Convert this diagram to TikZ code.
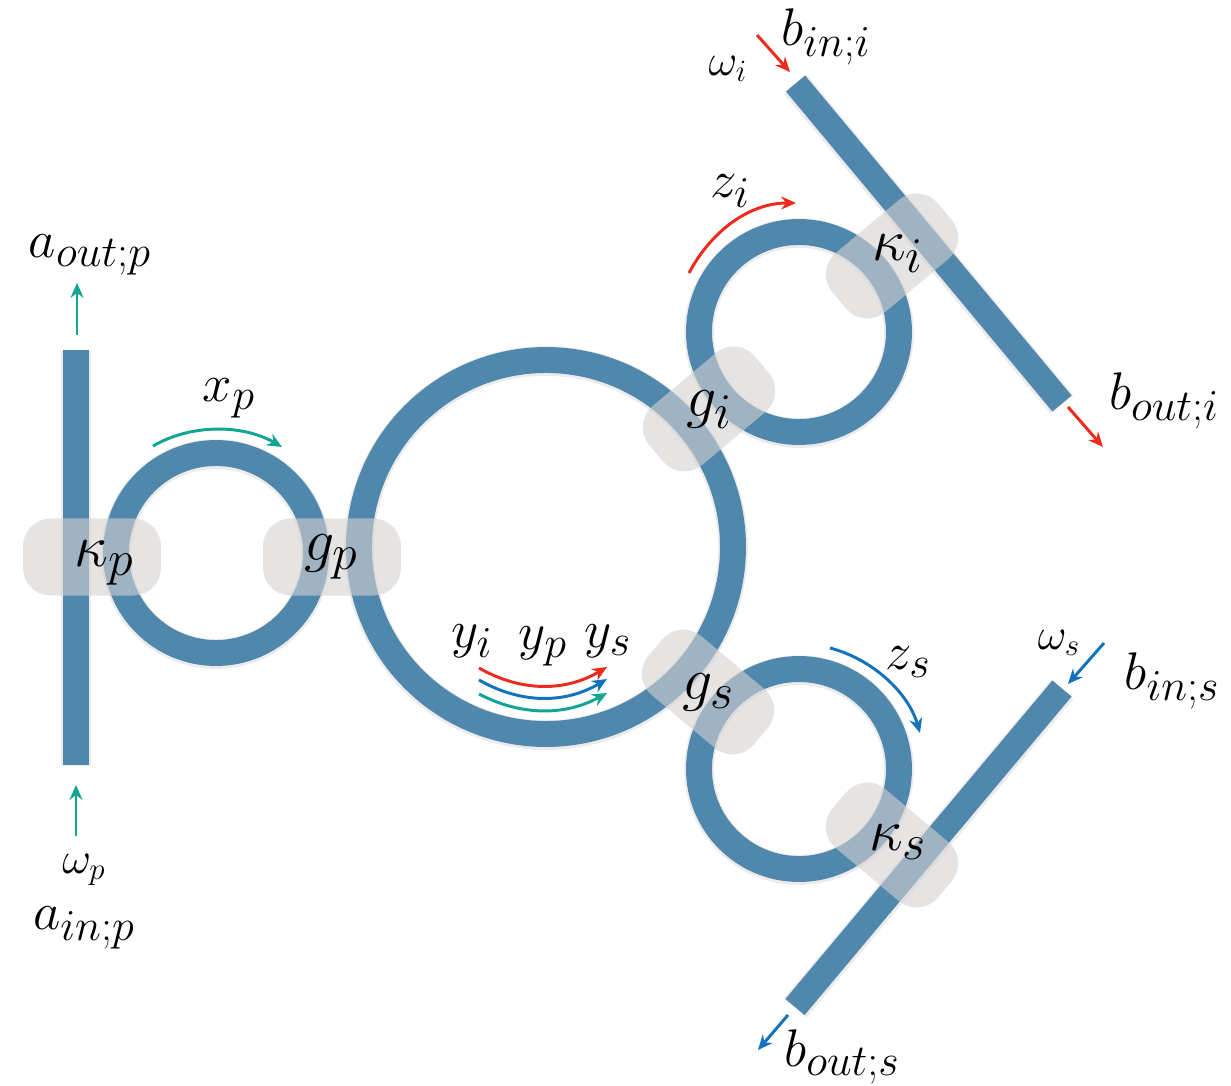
\documentclass[tikz,border=0pt]{standalone}
\usepackage{amsmath,amssymb}
\usetikzlibrary{arrows.meta,positioning}
\definecolor{Guide}{HTML}{4F87AD}
\definecolor{Overlap}{HTML}{D5D1D1}
\definecolor{Idler}{HTML}{EE2A1C}
\definecolor{Signal}{HTML}{1272BC}
\definecolor{Pump}{HTML}{12A594}
\tikzset{
guide/.style={draw=Guide,line width=14pt,preaction={draw=black,opacity=.08,line width=16pt,transform canvas={yshift=-.6pt}}},
bus/.style={guide,line width=13.5pt,preaction={}},
coupler/.style={fill=Overlap,fill opacity=.6,rounded corners=15pt,minimum width=74.5pt,minimum height=41.6pt,inner sep=0pt},
flow/.style={-{Stealth[length=8pt,width=7pt]},line width=1.6pt},
lab/.style={font=\Huge,inner sep=0pt,scale=1.15,transform shape},
big/.style={font=\Huge,inner sep=0pt,scale=1.3,transform shape},
small/.style={font=\huge,inner sep=0pt,scale=1.16,transform shape}}
\begin{document}
\begin{tikzpicture}[x=.54pt,y=-.54pt]
\useasboundingbox (0,0) rectangle (1231,1086);
% waveguides
\draw[guide] (76,350) -- (76,765);
\draw[bus] (795.5,83.5) -- (1062,403.5);
\draw[bus] (1062,688.5) -- (795,1007);
\draw[guide] (216,553) circle[radius=100];
\draw[guide] (546,547) circle[radius=187];
\draw[guide] (799,332) circle[radius=100];
\draw[guide] (799,769) circle[radius=100];
% coupling regions
\node[coupler] (boxkp) at (92,557) {};
\node[coupler] (boxgp) at (332,557) {};
\node[coupler,rotate=40] (boxgi) at (709,409) {};
\node[coupler,rotate=40] (boxki) at (892,256) {};
\node[coupler,rotate=-40] (boxgs) at (708,692) {};
\node[coupler,rotate=-40] (boxks) at (892,845) {};
% labels
\node[big] (kp) at (104,563) {$\kappa_p$};
\node[big] (gp) at (331,557) {$g_p$};
\node[big] (gi) at (709,410) {$g_i$};
\node[big] (ki) at (898,254) {$\kappa_i$};
\node[big] (gs) at (709,692) {$g_s$};
\node[big] (ks) at (898,842) {$\kappa_s$};
\node[lab] (xp) at (229,398) {$x_p$};
\node[lab] (zi) at (730,191) {$z_i$};
\node[lab] (zs) at (908,662) {$z_s$};
\node[lab] (yi) at (472,641) {$y_i$};
\node[lab] (yp) at (543,646) {$y_p$};
\node[lab] (ys) at (608,641) {$y_s$};
\node[lab] (aout) at (90,255) {$a_{out;p}$};
\node[lab] (ain) at (84,928) {$a_{in;p}$};
\node[lab] (bini) at (826,37) {$b_{in;i}$};
\node[lab] (bouti) at (1164,401) {$b_{out;i}$};
\node[lab] (bins) at (1172,681) {$b_{in;s}$};
\node[lab] (bouts) at (842,1057) {$b_{out;s}$};
\node[small] (wp) at (84,870) {$\omega_p$};
\node[small] (wi) at (728,69) {$\omega_i$};
\node[small] (ws) at (1059,643) {$\omega_s$};
% field arrows
\coordinate (aoutA) at (77,335); \coordinate (aoutB) at (77,283);
\coordinate (ainA) at (76,836); \coordinate (ainB) at (76,785);
\coordinate (biniA) at (757,35); \coordinate (biniB) at (790,72);
\coordinate (boutiA) at (1068,407); \coordinate (boutiB) at (1103,447);
\coordinate (binsA) at (1104,643); \coordinate (binsB) at (1068,684);
\coordinate (boutsA) at (788,1015); \coordinate (boutsB) at (758,1050);
\draw[flow,Pump] (aoutA) -- (aoutB);
\draw[flow,Pump] (ainA) -- (ainB);
\draw[flow,Idler] (biniA) -- (biniB);
\draw[flow,Idler] (boutiA) -- (boutiB);
\draw[flow,Signal] (binsA) -- (binsB);
\draw[flow,Signal] (boutsA) -- (boutsB);
\draw[flow,Pump] (153,446) .. controls (192,423.5) and (243,424.5) .. (282,447);
\draw[flow,Idler] (689,273) .. controls (711,231.5) and (749,203) .. (796,203);
\draw[flow,Signal] (830,648) .. controls (872,659) and (908,692) .. (920,733);
\draw[flow,Idler] (479,668) .. controls (521,692) and (565,692) .. (607,667);
\draw[flow,Signal] (479,680) .. controls (521,704) and (565,704) .. (607,679);
\draw[flow,Pump] (479,694) .. controls (521,716) and (565,716) .. (607,693);
\end{tikzpicture}
\end{document}
